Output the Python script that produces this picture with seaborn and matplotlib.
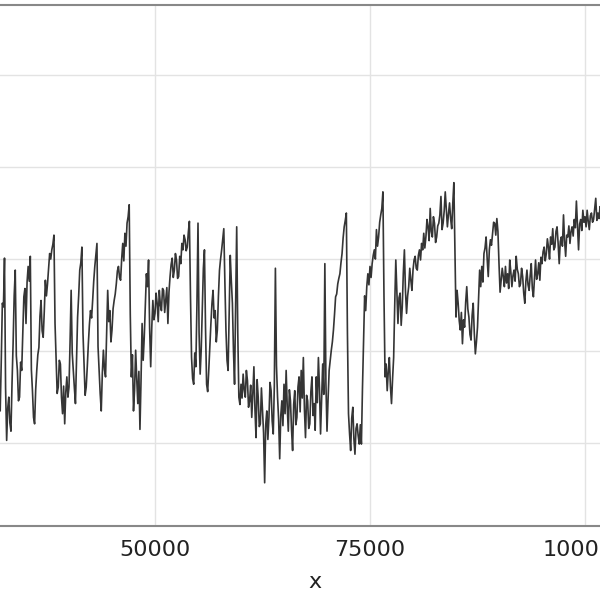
import numpy as np
import pandas as pd
import matplotlib
matplotlib.use("Agg")
import matplotlib.pyplot as plt
import seaborn as sns

# ---- data (series sampled every 125 units along x) ----
x_start = 31500
x_step = 125

lead_in = [10.0, 8.0, 6.0, 4.5]
seg_1 = [3.5, 9.0, 15.2, 14.8, 20.1, 6.0, 0.3, 3.8, 5.0, 2.2, 1.3, 6.5, 10.8, 16.0, 18.8, 9.5, 7.9, 4.6, 5.0, 8.8,
         7.9, 12.0, 15.9, 16.8, 13.0, 17.5, 19.2, 17.6, 20.3, 8.0, 5.7, 2.8, 2.1, 5.8, 7.9, 9.6, 10.4, 13.8, 15.5, 12.2,
         11.5, 14.3, 17.7, 16.0, 17.3, 19.0, 20.6, 20.0, 21.0, 21.6, 22.6, 13.0, 9.3, 5.4, 6.1, 9.0, 8.6, 5.0, 3.2, 6.2,
         2.1, 5.5, 7.2, 5.0, 6.1, 11.0, 16.6, 9.8, 7.9, 6.0, 4.3, 9.2, 13.7, 16.0, 18.8, 19.6, 21.3, 12.0, 8.6, 5.2,
         6.1, 8.3, 10.8, 12.9, 14.4, 13.6, 15.5, 17.6, 19.2, 20.4, 21.7, 10.5, 7.9, 5.4, 3.5, 7.6, 10.1, 8.0, 7.2, 12.0,
         16.6, 13.2, 14.4, 11.0, 12.3, 14.6, 15.5, 16.2, 17.3, 18.7, 19.2, 18.0]
seg_2 = [17.7, 20.0, 21.7, 19.8, 22.8, 21.4, 23.9, 24.6, 25.9, 14.0, 7.2, 9.6, 3.5, 5.8, 10.1, 7.0, 4.3, 7.8, 1.5, 6.8,
         13.0, 9.0, 11.5, 15.0, 18.4, 17.0, 19.9, 12.5, 8.3, 12.6, 15.5, 13.4, 14.1, 16.3, 15.2, 13.2, 16.6, 15.0, 14.4, 16.8,
         16.6, 14.2, 15.5, 16.9, 13.0, 16.4, 18.1, 19.4, 20.1, 18.0, 18.8, 20.6, 19.9, 17.9, 18.1, 20.3, 19.5, 21.7, 21.0, 22.6,
         22.1, 20.9, 21.3, 22.9, 24.1, 16.0, 9.3, 7.0, 6.4, 9.8, 8.3, 15.0, 23.9, 12.0, 7.5, 10.2, 14.4, 19.0, 21.0, 12.5,
         6.4, 5.6, 7.9, 10.5, 13.0, 15.2, 16.6, 13.6, 14.4, 11.0, 12.3, 16.0, 18.8, 20.0, 21.0, 22.2, 23.3, 17.5, 12.3, 9.0,
         7.9, 14.0, 20.4, 17.6, 15.2, 10.0, 6.4, 15.0, 23.5, 12.0, 5.0, 4.2]
seg_3 = [6.4, 4.9, 7.5, 5.8, 5.0, 7.9, 6.8, 3.9, 4.6, 6.3, 2.8, 5.4, 8.3, 3.6, 0.6, 6.9, 5.0, 1.8, 2.1, 6.0,
         3.5, 1.1, -4.3, 2.0, 3.5, 0.4, 2.8, 6.6, 5.7, 2.4, 1.0, 6.2, 19.0, 8.4, 5.0, 2.6, -1.7, 3.0, 4.6, 1.9,
         6.4, 3.2, 7.9, 4.0, 1.3, 5.8, 4.6, 1.5, -0.8, 4.2, 5.7, 2.0, 2.8, 6.1, 7.2, 3.4, 7.9, 4.9, 9.3, 3.7,
         0.6, 5.2, 4.6, 1.6, 2.1, 5.6, 7.2, 3.0, 4.3, 1.4, 7.2, 4.4, 9.3, 6.0, 1.0, 4.7, 8.6, 5.3, 19.5, 6.5,
         1.3, 4.8, 7.9, 9.0, 10.1, 11.0, 12.3, 14.0, 15.9, 16.2, 17.3, 17.9, 18.4, 19.6, 20.6, 22.3, 23.5, 24.2, 25.0, 12.0,
         3.2, 1.0, -0.8, 2.7, 3.9, 0.5, -1.2, 1.6, 2.1, 0.8, -0.1, 2.0]
seg_4 = [-0.1, 6.0, 10.8, 16.0, 14.4, 17.0, 18.4, 17.2, 19.2, 18.0, 19.5, 20.4, 21.0, 20.0, 23.2, 21.4, 22.4, 24.0, 24.8, 25.5,
         27.3, 16.0, 7.2, 8.6, 5.7, 7.8, 9.3, 6.2, 4.3, 7.0, 9.3, 15.0, 19.9, 16.4, 13.0, 15.8, 16.3, 12.8, 14.8, 18.5,
         21.0, 16.5, 14.1, 16.0, 17.0, 19.0, 17.7, 16.6, 18.8, 19.9, 20.3, 19.0, 18.8, 20.4, 21.0, 19.9, 21.7, 21.0, 22.8, 21.2,
         22.4, 24.3, 23.5, 22.0, 25.5, 23.0, 22.4, 24.6, 23.9, 21.8, 22.4, 23.6, 23.9, 24.8, 26.8, 23.2, 23.9, 25.2, 27.3, 25.4,
         23.5, 24.9, 26.1, 24.4, 23.3, 26.0, 28.3, 21.0, 13.7, 16.6, 15.2, 13.3, 12.3, 14.2, 10.8, 13.4, 12.6, 15.3, 17.0, 14.6,
         13.7, 11.8, 11.2, 13.9, 15.2, 12.0, 9.7, 11.0, 12.6, 15.6, 18.8, 17.0]
seg_5 = [19.2, 17.5, 20.6, 21.2, 22.4, 20.0, 18.1, 21.0, 22.1, 21.5, 22.8, 24.0, 23.9, 22.6, 24.4, 23.0, 19.5, 16.4, 17.7, 19.0,
         18.1, 17.0, 19.2, 17.4, 18.4, 16.8, 19.9, 18.6, 17.0, 18.2, 18.8, 17.6, 20.3, 18.9, 18.4, 17.0, 17.3, 19.0, 18.1, 16.3,
         15.2, 17.6, 18.8, 17.2, 16.6, 18.2, 19.5, 16.8, 15.9, 18.0, 19.9, 17.8, 18.4, 19.6, 17.7, 20.2, 19.5, 20.8, 21.3, 19.8,
         20.6, 22.2, 21.3, 20.0, 22.4, 21.6, 23.3, 21.0, 21.3, 23.0, 23.5, 21.7, 19.5, 21.9, 22.4, 21.4, 24.8, 22.0, 20.3, 22.6,
         22.4, 23.6, 21.7, 23.0, 23.5, 22.5, 24.3, 23.4, 26.3, 23.6, 21.0, 23.8, 24.3, 23.1, 25.3, 24.0, 24.6, 23.5, 25.3, 24.1,
         23.2, 24.7, 25.0, 24.0, 24.3, 25.4, 26.6, 24.2, 25.0, 24.4, 25.7, 24.8]
tail = [24.5, 25.5, 26.0, 24.8, 25.2]

xticks = [50000, 75000, 100000]
yticks = [0, 10, 20, 30, 40]

y_vals = np.concatenate([lead_in, seg_1, seg_2, seg_3, seg_4, seg_5, tail])
x_vals = x_start + x_step * np.arange(len(y_vals))
df = pd.DataFrame({"x": x_vals, "y": y_vals})

# ---- style ----
sns.set_theme(style="whitegrid")
plt.rcParams["font.family"] = ["DejaVu Sans"]

fig = plt.figure(figsize=(6, 6), dpi=100)
# axes deliberately wider than the canvas (reference is a cropped view)
ax = fig.add_axes([-0.1, 0.12333, 1.25, 0.86833])

sns.lineplot(data=df, x="x", y="y", ax=ax, color="#111111",
             alpha=0.85, linewidth=1.2)

ax.set_xlim(25000, 112209)
ax.set_ylim(-9.0, 47.6)
ax.set_xticks(xticks)
ax.set_yticks(yticks)
ax.grid(True, color="#e3e3e3", linewidth=1.0)
for side in ["top", "bottom"]:
    ax.spines[side].set_color("#888888")
    ax.spines[side].set_linewidth(1.5)
for side in ["left", "right"]:
    ax.spines[side].set_visible(False)

ax.tick_params(axis="x", length=0, pad=10, labelsize=16, labelcolor="#222222")
ax.tick_params(axis="y", length=0, labelleft=False)
ax.set_xlabel("x", fontsize=16, labelpad=9, color="#222222")
ax.set_ylabel("")

fig.savefig("out.png", dpi=100)
